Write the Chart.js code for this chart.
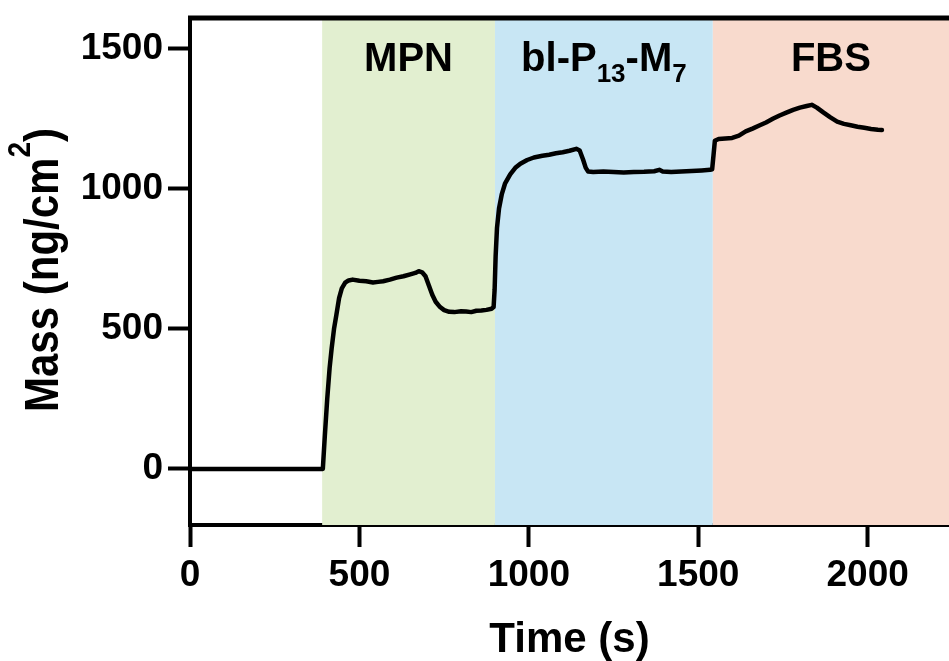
<!DOCTYPE html>
<html>
<head>
<meta charset="utf-8">
<script src="https://cdn.jsdelivr.net/npm/chart.js@4.4.0/dist/chart.umd.min.js"></script>
<style>
  html, body { margin: 0; padding: 0; background: #fff; }
  #wrap { width: 949px; height: 661px; }
</style>
</head>
<body>
<div id="wrap"><canvas id="qcm" width="949" height="661"></canvas></div>
<script>
// QCM trace: adsorbed mass vs time
const timeS = [
  0, 100, 200, 300, 392,
  398, 405, 412, 418, 425, 432, 440, 448, 458, 468, 480,
  500, 520, 540, 555, 570, 590, 610, 630, 650, 665, 675, 685, 695,
  705, 715, 725, 738, 750, 765, 780, 800, 815, 830, 845, 860, 875, 890, 896,
  899, 902, 906, 912, 920, 930, 945, 960, 975, 995, 1015, 1040, 1060, 1080,
  1100, 1120, 1140, 1150, 1160, 1168, 1175, 1190, 1220, 1250, 1280, 1310,
  1340, 1370, 1385, 1395, 1420, 1450, 1480, 1510, 1535,
  1541, 1545, 1549, 1560, 1580, 1600, 1620, 1640, 1660, 1680, 1700, 1720,
  1740, 1760, 1780, 1800, 1820, 1835, 1850, 1870, 1890, 1910, 1930, 1950,
  1970, 1990, 2010, 2030, 2042
];
const massNg = [
  0, 0, 0, 0, 0,
  120, 250, 360, 430, 500, 550, 610, 645, 665, 673, 676,
  672, 670, 666, 668, 670, 676, 683, 688, 695, 700, 706, 702, 688,
  655, 622, 597, 578, 567, 561, 560, 563, 562, 560, 565, 566, 568, 572, 578,
  640, 760, 860, 930, 980, 1020, 1052, 1075, 1090, 1103, 1112, 1118, 1122, 1127,
  1131, 1136, 1143, 1137, 1105, 1075, 1062, 1060, 1062, 1060, 1058, 1060,
  1061, 1063, 1068, 1062, 1060, 1062, 1064, 1066, 1068,
  1070, 1120, 1172, 1178, 1180, 1182, 1190, 1205, 1215, 1226, 1237, 1250,
  1262, 1272, 1282, 1290, 1296, 1300, 1290, 1272, 1255, 1240, 1232, 1227,
  1222, 1218, 1214, 1211, 1210
];

// injection phases (background bands)
const phaseStart = [390, 900, 1543];
const phaseEnd = [900, 1543, 2240];
const phaseColors = ['#e2efd0', '#c8e6f4', '#f8dacd'];
// label pieces: [text, isSubscript]
const phaseLabels = [
  [['MPN', false]],
  [['bl-P', false], ['13', true], ['-M', false], ['7', true]],
  [['FBS', false]]
];

const xTicks = [0, 500, 1000, 1500, 2000];
const yTicks = [0, 500, 1000, 1500];

const FONT = '"Liberation Sans", Arial, Helvetica, sans-serif';

// draw a row of text pieces with their own size and vertical shift
function drawRuns(ctx, runs, cx, baseY) {
  let total = 0;
  runs.forEach(r => {
    ctx.font = 'bold ' + r.size + 'px ' + FONT;
    r.w = ctx.measureText(r.t).width;
    total += r.w;
  });
  let x = cx - total / 2;
  ctx.textAlign = 'left';
  ctx.textBaseline = 'alphabetic';
  runs.forEach(r => {
    ctx.font = 'bold ' + r.size + 'px ' + FONT;
    ctx.fillText(r.t, x, baseY + (r.dy || 0));
    x += r.w;
  });
}

const phasePlugin = {
  id: 'phases',
  beforeDatasetsDraw(chart) {
    const {ctx, chartArea, scales} = chart;
    ctx.save();
    phaseStart.forEach((s, i) => {
      const x0 = scales.x.getPixelForValue(s);
      const x1 = Math.min(scales.x.getPixelForValue(phaseEnd[i]), chartArea.right);
      ctx.fillStyle = phaseColors[i];
      ctx.fillRect(x0, chartArea.top, x1 - x0, chartArea.bottom - chartArea.top);
    });
    ctx.fillStyle = '#000';
    phaseLabels.forEach((parts, i) => {
      const mid = (phaseStart[i] + Math.min(phaseEnd[i], scales.x.max)) / 2;
      const runs = parts.map(([t, sub]) => sub ? {t, size: 26, dy: 11} : {t, size: 40});
      drawRuns(ctx, runs, scales.x.getPixelForValue(mid), chartArea.top + 53);
    });
    ctx.restore();
  }
};

const framePlugin = {
  id: 'frame',
  afterDraw(chart) {
    const {ctx, chartArea} = chart;
    ctx.save();
    // top border
    ctx.strokeStyle = '#000';
    ctx.lineWidth = 5;
    ctx.beginPath();
    ctx.moveTo(chartArea.left - 2, chartArea.top);
    ctx.lineTo(chart.width, chartArea.top);
    ctx.stroke();

    ctx.fillStyle = '#000';
    // x title
    drawRuns(ctx, [{t: 'Time (s)', size: 42}], (chartArea.left + chartArea.right) / 2, 652);
    // y title, rotated and a bit taller
    ctx.translate(58, 270);
    ctx.rotate(-Math.PI / 2);
    ctx.scale(1, 1.15);
    drawRuns(ctx, [
      {t: 'Mass (ng/cm', size: 42},
      {t: '2', size: 28, dy: -24},
      {t: ')', size: 42}
    ], 0, 0);
    ctx.restore();
  }
};

const tickFont = {family: FONT, size: 37, weight: 'bold'};
const plainLabel = v => String(v);

new Chart(document.getElementById('qcm'), {
  type: 'line',
  data: {
    datasets: [{
      data: timeS.map((t, i) => ({x: t, y: massNg[i]})),
      borderColor: '#000',
      borderWidth: 4.5,
      pointRadius: 0,
      tension: 0,
      fill: false,
      borderJoinStyle: 'round',
      borderCapStyle: 'round'
    }]
  },
  options: {
    responsive: false,
    animation: false,
    layout: {padding: {top: 18, right: 0, left: 0, bottom: 0}},
    plugins: {legend: {display: false}, tooltip: {enabled: false}},
    scales: {
      x: {
        type: 'linear',
        min: 0,
        max: 2240,
        afterBuildTicks: axis => { axis.ticks = xTicks.map(v => ({value: v})); },
        afterFit: scale => { scale.height = 136; scale.paddingLeft = 0; scale.paddingRight = 0; },
        grid: {display: true, drawOnChartArea: false, drawTicks: true, tickLength: 22, tickWidth: 4, tickColor: '#000'},
        border: {display: true, color: '#000', width: 4},
        ticks: {color: '#000', font: tickFont, padding: 7, maxRotation: 0, autoSkip: false, callback: plainLabel}
      },
      y: {
        type: 'linear',
        min: -200,
        max: 1610,
        afterBuildTicks: axis => { axis.ticks = yTicks.map(v => ({value: v})); },
        afterFit: scale => { scale.width = 190; scale.paddingTop = 0; scale.paddingBottom = 0; },
        grid: {display: true, drawOnChartArea: false, drawTicks: true, tickLength: 22, tickWidth: 4, tickColor: '#000'},
        border: {display: true, color: '#000', width: 4},
        ticks: {color: '#000', font: tickFont, padding: 5, callback: plainLabel}
      }
    }
  },
  plugins: [phasePlugin, framePlugin]
});
</script>
</body>
</html>
